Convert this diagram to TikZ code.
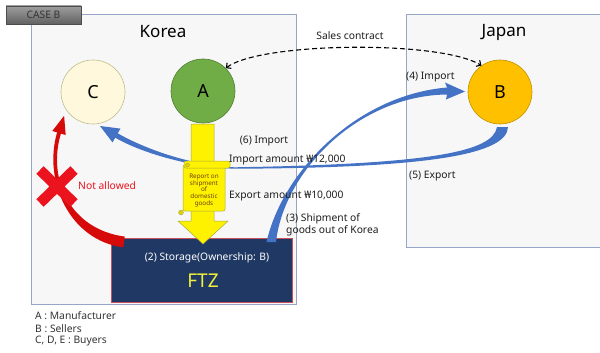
\documentclass[tikz,border=0pt]{standalone}
\usepackage{fontspec}
\setmainfont{Noto Sans}
\usetikzlibrary{arrows.meta}

\definecolor{framecol}{RGB}{150,165,200}
\definecolor{framefill}{RGB}{247,247,247}
\definecolor{ccream}{RGB}{255,248,220}
\definecolor{cedge}{RGB}{190,190,140}
\definecolor{agreen}{RGB}{112,173,71}
\definecolor{aedge}{RGB}{80,126,50}
\definecolor{bgold}{RGB}{255,192,0}
\definecolor{bedge}{RGB}{190,145,0}
\definecolor{flowblue}{RGB}{68,114,196}
\definecolor{navy}{RGB}{32,56,100}
\definecolor{ftzedge}{RGB}{200,80,90}
\definecolor{ftzyellow}{RGB}{240,240,60}
\definecolor{xred}{RGB}{235,20,30}
\definecolor{arrred}{RGB}{215,10,10}
\definecolor{yedge}{RGB}{170,170,60}
\definecolor{notetext}{RGB}{110,60,10}
\definecolor{labeltext}{RGB}{30,30,30}

\tikzset{
  frame/.style={draw=framecol, fill=framefill, line width=0.7pt},
  party/.style={circle, minimum size=64pt, inner sep=0pt, line width=0.6pt,
    font=\fontsize{18}{20}\selectfont},
  title/.style={font=\fontsize{17}{20}\selectfont, text=black},
  lbl/.style={font=\fontsize{10.3}{12.5}\selectfont, text=labeltext, inner sep=0pt},
  legend/.style={font=\fontsize{10.3}{12}\selectfont, text=black!80, anchor=west, inner sep=0pt},
  yel/.style={fill=yellow, draw=yedge, line width=0.5pt},
  note/.style={font=\fontsize{6.3}{8}\selectfont, text=notetext, align=center, inner sep=0pt}
}

\begin{document}
\begin{tikzpicture}[x=1pt,y=-1pt]
\useasboundingbox (0,0) rectangle (600,353);
\fill[white] (0,0) rectangle (600,353);

% country frames
\draw[frame] (31,14) rectangle (296,304);
\draw[frame] (406,14) rectangle (606,247);
\node[title] (korea) at (163,32) {Korea};
\node[title] (japan) at (504,32) {Japan};

% case tag
\shade[top color=black!38, bottom color=black!62, draw=black!70, line width=0.6pt]
  (6,6) rectangle (81,24);
\node[font=\fontsize{10.3}{12}\selectfont, text=black!80] (case) at (43.5,15) {CASE B};

% free trade zone
\node[draw=ftzedge, fill=navy, line width=0.6pt, minimum width=181pt,
  minimum height=64pt, inner sep=0pt] (FTZ) at (201.5,270) {};
\node[font=\fontsize{10.3}{12}\selectfont, text=white] (storage) at (207,258)
  {(2) Storage(Ownership: B)};
\node[font=\fontsize{19}{22}\selectfont, text=ftzyellow] (ftzlbl) at (203,281) {FTZ};

% parties
\node[party, fill=ccream, draw=cedge] (C) at (93,92) {C};
\node[party, fill=agreen, draw=aedge] (A) at (203,91) {A};
\node[party, fill=bgold, draw=bedge] (B) at (500,92) {B};

% (5) export from B, (6) import into C
\fill[flowblue]
  (497,127) .. controls (493,152) and (430,164) .. (235,167.3)
  .. controls (195,166.3) and (146.25,149.8) .. (117.75,133.3)
  -- (120.5,128.6) -- (100,126) -- (112.5,142.4) -- (115.25,137.7)
  .. controls (143.75,154.2) and (195,167.8) .. (235,168.7)
  .. controls (432,168) and (507,154) .. (508,127) -- cycle;

% (3) shipment out of Korea, (4) import into B
\fill[flowblue]
  (266.5,242) .. controls (283,170) and (358,95) .. (447,87.5)
  -- (445,82.5) -- (465,91.5) -- (446,99.5) -- (447,94.5)
  .. controls (358.5,95.5) and (284,171) .. (276,242) -- cycle;

% shipment arrow from A into the FTZ
\filldraw[yel] (191,124) -- (214,124) -- (214,221) -- (228,221) -- (203,244)
  -- (178,221) -- (191,221) -- cycle;
% report note
\filldraw[yel, rounded corners=2pt] (183,165) -- (225,165) -- (225,211)
  -- (183,211) -- cycle;
\filldraw[yel, rounded corners=2pt] (184,161) rectangle (230,168);
\filldraw[fill=yellow!70!olive, draw=yedge, line width=0.4pt] (187.5,165) circle (2pt);
\filldraw[fill=yellow!70!olive, draw=yedge, line width=0.4pt] (181,212.5) circle (2.4pt);
\node[note] (report) at (204,190.5)
  {Report on\\[-1.2pt]shipment\\[-1.2pt]of\\[-1.2pt]domestic\\[-1.2pt]goods};

% forbidden route from the FTZ to C
\fill[arrred]
  (124.8,236.6) .. controls (70.5,229.5) and (47,179.5) .. (60.9,133.6)
  -- (65.7,135) -- (64.1,115.8) -- (52.3,131) -- (57.1,132.4)
  .. controls (43,180.5) and (69,240) .. (123.2,247.4) -- cycle;
\draw[xred, line width=10.5pt] (40,170) -- (74,203) (74,170) -- (40,203);
\node[lbl, text=xred, anchor=west] (notallowed) at (78,186) {Not allowed};

% sales contract between A and B
\draw[line width=1.1pt, dash pattern=on 5pt off 3pt,
  {Straight Barb[length=3.5pt,width=7pt]}-{Straight Barb[length=3.5pt,width=7pt]}]
  (A.45) .. controls (260,42) and (440,40) .. (B.125);
\node[lbl] (sales) at (350,36) {Sales contract};

% flow labels
\node[lbl] (imp6) at (264,141) {(6) Import};
\node[lbl, anchor=west] (impamt) at (229,160) {Import amount ₩12,000};
\node[lbl, anchor=west] (expamt) at (229,196) {Export amount ₩10,000};
\node[lbl, anchor=west, align=left] (ship3) at (286,225)
  {(3) Shipment of\\goods out of Korea};
\node[lbl, anchor=west] (imp4) at (406,77) {(4) Import};
\node[lbl, anchor=west] (exp5) at (409,176) {(5) Export};

% legend
\node[legend] (legA) at (35,316) {A : Manufacturer};
\node[legend] (legB) at (35,328.5) {B : Sellers};
\node[legend] (legC) at (35,341.5) {C, D, E : Buyers};
\end{tikzpicture}
\end{document}
